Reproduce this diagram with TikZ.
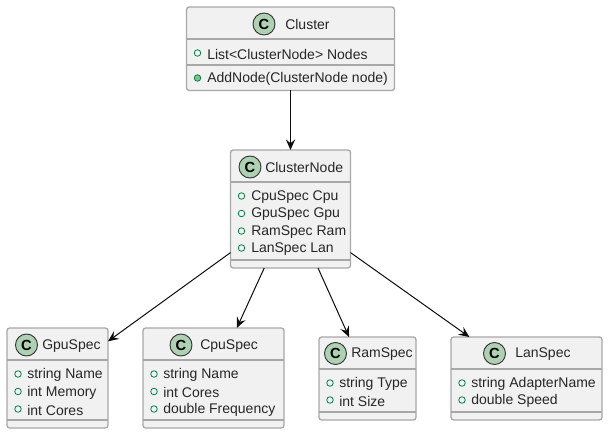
\documentclass[tikz,border=0pt]{standalone}
\usepackage{fontspec}
\setmainfont{Liberation Sans}
\definecolor{boxfill}{HTML}{F1F1F1}
\definecolor{boxline}{HTML}{A8A8A8}
\definecolor{spotfill}{HTML}{ADD1B2}
\definecolor{markline}{HTML}{038048}
\definecolor{markfill}{HTML}{84BE84}
\tikzstyle{classbox}=[rectangle,draw=boxline,fill=boxfill,line width=1pt,rounded corners=2pt,inner sep=0pt,outer sep=0pt]
\tikzstyle{spot}=[circle,draw=black!80,fill=spotfill,line width=0.7pt,minimum size=16.5pt,inner sep=0pt,font=\fontsize{11}{12}\selectfont\bfseries]
\tikzstyle{title}=[anchor=west,inner sep=0pt,yshift=-0.5pt,text=black!85,font=\fontsize{10.5}{12}\selectfont]
\tikzstyle{member}=[anchor=west,inner sep=0pt,yshift=-0.75pt,text=black!85,font=\fontsize{10.5}{12}\selectfont]
\tikzstyle{fieldmark}=[circle,draw=markline,line width=0.6pt,minimum size=4.9pt,inner sep=0pt]
\tikzstyle{methodmark}=[circle,draw=markline,fill=markfill,line width=0.6pt,minimum size=4.9pt,inner sep=0pt]
\tikzstyle{divider}=[draw=boxline,line width=1pt]
\tikzstyle{link}=[-{Stealth[length=8pt,width=7pt,inset=3pt]},black!95,line width=0.75pt]
\usetikzlibrary{arrows.meta}
\begin{document}
\begin{tikzpicture}[x=0.75pt,y=-0.75pt]
		\useasboundingbox (0,0) rectangle (609,435);
		% boxes
		\node[classbox,minimum width=156pt,minimum height=62.6pt] at (290.5,48.75) (cluster) {};
		\node[classbox,minimum width=90pt,minimum height=88.5pt] at (290.5,209) (clusternode) {};
		\node[classbox,minimum width=75.75pt,minimum height=75pt] at (57.5,378) (gpuspec) {};
		\node[classbox,minimum width=105.75pt,minimum height=75pt] at (213.5,378) (cpuspec) {};
		\node[classbox,minimum width=72.75pt,minimum height=62.25pt] at (367.5,378.5) (ramspec) {};
		\node[classbox,minimum width=113.25pt,minimum height=62.25pt] at (526.5,378.5) (lanspec) {};
		% dividers
		\draw[divider] (cluster.west |- 0,39) -- (cluster.east |- 0,39);
		\draw[divider] (cluster.west |- 0,65) -- (cluster.east |- 0,65);
		\draw[divider] (clusternode.west |- 0,182) -- (clusternode.east |- 0,182);
		\draw[divider] (clusternode.west |- 0,260) -- (clusternode.east |- 0,260);
		\draw[divider] (gpuspec.west |- 0,360) -- (gpuspec.east |- 0,360);
		\draw[divider] (gpuspec.west |- 0,420) -- (gpuspec.east |- 0,420);
		\draw[divider] (cpuspec.west |- 0,360) -- (cpuspec.east |- 0,360);
		\draw[divider] (cpuspec.west |- 0,420) -- (cpuspec.east |- 0,420);
		\draw[divider] (ramspec.west |- 0,369) -- (ramspec.east |- 0,369);
		\draw[divider] (ramspec.west |- 0,412) -- (ramspec.east |- 0,412);
		\draw[divider] (lanspec.west |- 0,369) -- (lanspec.east |- 0,369);
		\draw[divider] (lanspec.west |- 0,412) -- (lanspec.east |- 0,412);
		% Cluster
		\node[spot] at (264,24) (clusterspot) {C};
		\node[title] at (285,24) (clustertitle) {Cluster};
		\node[fieldmark] at (197.5,53) (nodesmark) {};
		\node[member] at (207,53) (nodesfield) {List<ClusterNode> Nodes};
		\node[methodmark] at (197.5,78) (addmark) {};
		\node[member] at (207,78) (addmethod) {AddNode(ClusterNode node)};
		% ClusterNode
		\node[spot] at (250,167) (clusternodespot) {C};
		\node[title] at (265,167) (clusternodetitle) {ClusterNode};
		\node[fieldmark] at (241.5,196) (cpumark) {};
		\node[member] at (251,196) (cpufield) {CpuSpec Cpu};
		\node[fieldmark] at (241.5,213.5) (gpumark) {};
		\node[member] at (251,213.5) (gpufield) {GpuSpec Gpu};
		\node[fieldmark] at (241.5,231) (rammark) {};
		\node[member] at (251,231) (ramfield) {RamSpec Ram};
		\node[fieldmark] at (241.5,248) (lanmark) {};
		\node[member] at (251,248) (lanfield) {LanSpec Lan};
		% GpuSpec
		\node[spot] at (26.5,345) (gpuspot) {C};
		\node[title] at (42,345) (gputitle) {GpuSpec};
		\node[fieldmark] at (18,374) (gpunamemark) {};
		\node[member] at (27,374) (gpuname) {string Name};
		\node[fieldmark] at (18,391.5) (gpumemmark) {};
		\node[member] at (27,391.5) (gpumem) {int Memory};
		\node[fieldmark] at (18,409) (gpucoresmark) {};
		\node[member] at (27,409) (gpucores) {int Cores};
		% CpuSpec
		\node[spot] at (181,345) (cpuspot) {C};
		\node[title] at (200,345) (cputitle) {CpuSpec};
		\node[fieldmark] at (154,374) (cpunamemark) {};
		\node[member] at (163,374) (cpuname) {string Name};
		\node[fieldmark] at (154,391.5) (cpucoresmark) {};
		\node[member] at (163,391.5) (cpucores) {int Cores};
		\node[fieldmark] at (154,409) (cpufreqmark) {};
		\node[member] at (163,409) (cpufreq) {double Frequency};
		% RamSpec
		\node[spot] at (335.5,353.5) (ramspot) {C};
		\node[title] at (351,353.5) (ramtitle) {RamSpec};
		\node[fieldmark] at (330,383) (ramtypemark) {};
		\node[member] at (339,383) (ramtype) {string Type};
		\node[fieldmark] at (330,400) (ramsizemark) {};
		\node[member] at (339,400) (ramsize) {int Size};
		% LanSpec
		\node[spot] at (494.5,353.5) (lanspot) {C};
		\node[title] at (515,353.5) (lantitle) {LanSpec};
		\node[fieldmark] at (462,383) (lanadaptermark) {};
		\node[member] at (471,383) (lanadapter) {string AdapterName};
		\node[fieldmark] at (462,400) (lanspeedmark) {};
		\node[member] at (471,400) (lanspeed) {double Speed};
		% arrows
		\draw[link] (cluster) -- (clusternode);
		\draw[link] (clusternode.216.5) -- (gpuspec.36.2);
		\draw[link] (clusternode.-114.2) -- (cpuspec.65.8);
		\draw[link] (clusternode.-65.8) -- (ramspec.114);
		\draw[link] (clusternode.-36.3) -- (lanspec.144.2);
		\end{tikzpicture}
\end{document}
